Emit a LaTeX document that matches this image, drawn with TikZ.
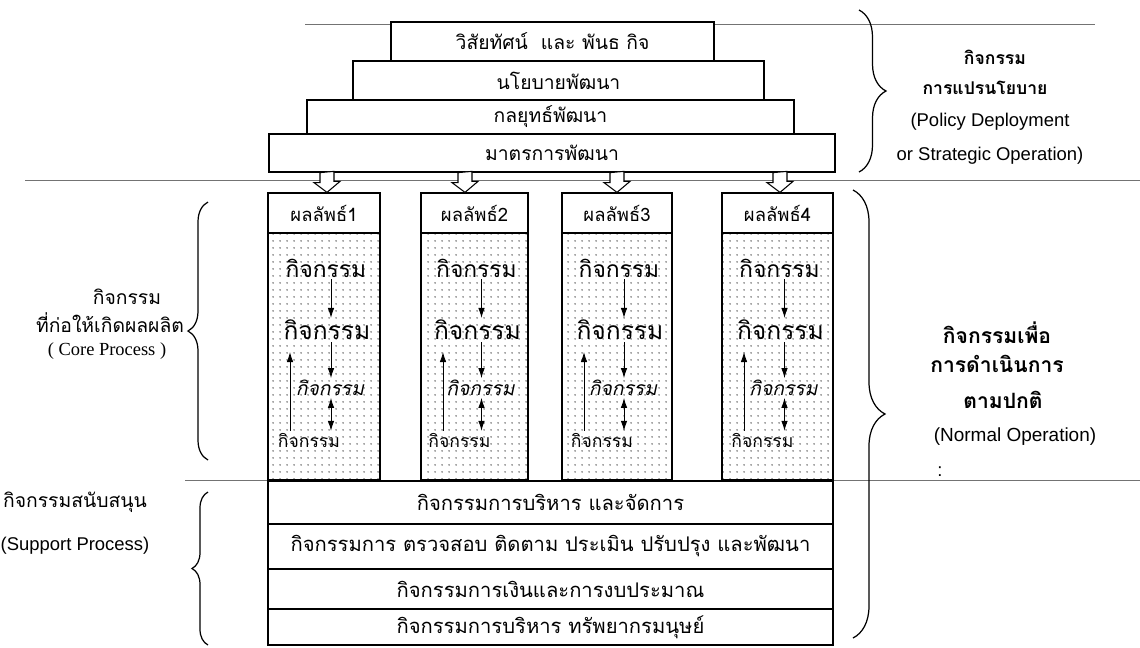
\documentclass[tikz,border=0pt]{standalone}
\usepackage{fontspec}
\setmainfont{Loma}[Script=Thai]
\newfontfamily\ensans{Liberation Sans}
\newfontfamily\enserif{Liberation Serif}
\usetikzlibrary{positioning,calc,patterns.meta,decorations.pathreplacing,arrows.meta}

\tikzset{
  wh/.style 2 args={minimum width=#1*0.02cm,minimum height=#2*0.02cm},
  lay/.style={draw,line width=0.7pt,fill=white,inner sep=0pt,font=\fontsize{11}{13}\selectfont},
  sup/.style={lay,font=\fontsize{11.5}{13}\selectfont},
  sep/.style={draw=black!55,line width=0.5pt},
  colhead/.style={draw,line width=0.7pt,fill=white,inner sep=0pt,font=\fontsize{10.5}{12}\selectfont},
  colbody/.style={draw,line width=0.7pt,inner sep=0pt,pattern={Dots[distance=4pt,radius=0.5pt]},pattern color=black!70},
  acta/.style={inner sep=1pt,font=\fontsize{13}{15}\selectfont},
  actb/.style={inner sep=1pt,font=\fontsize{14}{16}\selectfont},
  actc/.style={inner sep=1pt,font=\fontsize{11}{13}\selectfont\itshape},
  actd/.style={inner sep=1pt,font=\fontsize{10}{12}\selectfont},
  tip/.style={line width=0.5pt,-{Latex[length=2mm,width=1.3mm]}},
  tiptwo/.style={line width=0.5pt,{Latex[length=2mm,width=1.3mm]}-{Latex[length=2mm,width=1.3mm]}},
  hollow/.style={draw,fill=white,line width=0.6pt,line join=miter},
  brace/.style={decorate,decoration={brace,amplitude=#1},line width=0.7pt},
  thlbl/.style={inner sep=1pt,font=\fontsize{11}{13}\selectfont},
  thtop/.style={inner sep=1pt,font=\fontsize{10}{12}\selectfont\bfseries},
  thbold/.style={inner sep=1pt,font=\fontsize{12}{14}\selectfont\bfseries},
  enlbl/.style={inner sep=1pt,font=\ensans\fontsize{10.5}{12}\selectfont},
  enbig/.style={inner sep=1pt,font=\ensans\fontsize{10.8}{13}\selectfont},
}

\begin{document}
\begin{tikzpicture}[x=0.02cm,y=-0.02cm]
\useasboundingbox (0,0) rectangle (1140,647);

% separating lines
\draw[sep] (305,24) -- (1095,24);
\draw[sep] (25,180) -- (1140,180);
\draw[sep] (185,480) -- (1140,480);

% policy steps
\node[lay,wh={323}{39}] (vis) at (552.5,41.5) {วิสัยทัศน์\ \ และ พันธ กิจ};
\node[lay,wh={411}{39}] (pol) at (558.5,80.5) {นโยบายพัฒนา};
\node[lay,wh={487}{34}] (stg) at (550.5,117) {กลยุทธ์พัฒนา};
\node[lay,wh={566}{38}] (mea) at (552,153) {มาตรการพัฒนา};

% result columns
\foreach \i/\xc/\w in {1/324/112,2/474.5/107,3/617/110,4/777.5/111}{
  \node[colhead,wh={\w}{40}] (res\i) at (\xc,213) {ผลลัพธ์\i};
  \node[colbody,wh={\w}{247}] (col\i) at (\xc,356.5) {};
  \node[acta] (ka\i) at (\xc+2,268) {กิจกรรม};
  \node[actb] (kb\i) at (\xc+3,330) {กิจกรรม};
  \node[actc] (kc\i) at (\xc+6,388) {กิจกรรม};
  \node[actd] (kd\i) at (\xc-15,440) {กิจกรรม};
  \coordinate (ut\i) at (\xc-\w/2+22,352);
  \draw[tip] ($(ka\i.south)+(5,0)$) -- ($(ka\i.south |- kb\i.north)+(5,0)$);
  \draw[tip] ($(kb\i.south)+(4,0)$) -- ($(kb\i.south |- kc\i.north)+(4,0)$);
  \draw[tiptwo] ($(kc\i.south)+(1,0)$) -- ($(kc\i.south |- kd\i.north)+(1,0)$);
  \draw[tip] (kd\i.north -| ut\i) -- (ut\i);
}

% hollow arrows
\foreach \i/\dx in {1/3,2/-9.5,3/0,4/2.5}{
  \draw[hollow] ($(mea.south -| res\i.north)+(\dx-7,0)$) -- ++(0,10) -- ++(-6,0)
    -- ($(res\i.north)+(\dx,0)$) -- ++(13,-11) -- ++(-6,0) -- ++(0,-10) -- cycle;
}

% support activities
\node[sup,wh={565}{43}] (adm) at (550.5,502.5) {กิจกรรมการบริหาร และจัดการ};
\node[sup,wh={565}{45}] (mon) at (550.5,546.5) {กิจกรรมการ ตรวจสอบ ติดตาม ประเมิน ปรับปรุง และพัฒนา};
\node[sup,wh={565}{40}] (fin) at (550.5,589) {กิจกรรมการเงินและการงบประมาณ};
\node[sup,wh={565}{36}] (hrm) at (550.5,627) {กิจกรรมการบริหาร ทรัพยากรมนุษย์};

% braces
\coordinate (pt) at (859,10);  \coordinate (pb) at (859,172);
\coordinate (nt) at (853,190); \coordinate (nb) at (853,638);
\coordinate (ct) at (208,202); \coordinate (cb) at (208,460);
\coordinate (st) at (208,492); \coordinate (sb) at (208,645);
\draw[brace=27*0.02cm] (pt) -- (pb);
\draw[brace=32*0.02cm] (nt) -- (nb);
\draw[brace=20*0.02cm] (cb) -- (ct);
\draw[brace=16*0.02cm] (sb) -- (st);

% side labels
\node[thtop] (pd1) at (995,57) {กิจกรรม};
\node[thtop] (pd2) at (985,88) {การแปรนโยบาย};
\node[enlbl] (pd3) at (990,122) {(Policy Deployment};
\node[enlbl] (pd4) at (990,156) {or Strategic Operation)};

\node[thbold] (no1) at (997,333) {กิจกรรมเพื่อ};
\node[thbold] (no2) at (997,364) {การดำเนินการ};
\node[thbold] (no3) at (1003,400) {ตามปกติ};
\node[enbig] (no4) at (1015,437) {(Normal Operation)};
\node[enlbl] (no5) at (940,472) {:};

\node[thlbl] (cp1) at (127,297) {กิจกรรม};
\node[thlbl] (cp2) at (110,323) {ที่ก่อให้เกิดผลผลิต};
\node[inner sep=1pt,font=\enserif\fontsize{10.5}{12}\selectfont] (cp3) at (107,351) {( Core Process )};

\node[thlbl] (sp1) at (75,502) {กิจกรรมสนับสนุน};
\node[enlbl] (sp2) at (75,546) {(Support Process)};
\end{tikzpicture}
\end{document}
